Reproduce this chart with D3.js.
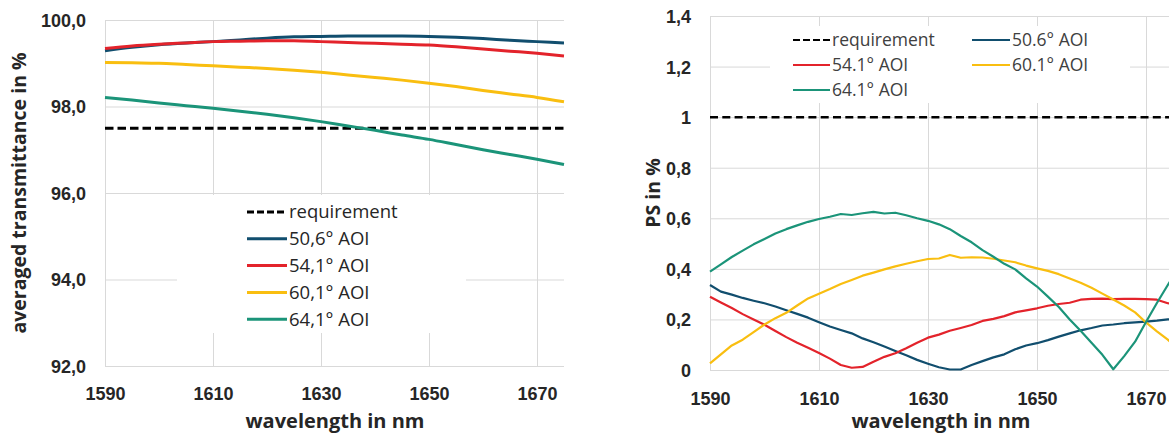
<!DOCTYPE html>
<html>
<head>
<meta charset="utf-8">
<script src="https://cdn.jsdelivr.net/npm/d3@7/dist/d3.min.js"></script>
<style>
  body { margin: 0; background: #fff; }
  svg { display: block; font-family: "Open Sans", "Noto Sans", sans-serif; }
  .grid line { stroke: #d9d9d9; stroke-width: 1; }
  .grid text { fill: #262626; font-weight: bold; font-size: 18px; }
</style>
</head>
<body>
<div id="chart"></div>
<script>
// ---- left chart : averaged transmittance ----
var wlTrans = [1590,1595,1600,1605,1610,1615,1620,1625,1630,1635,1640,1645,1650,1655,1660,1665,1670,1675];
var trans506 = [99.29,99.37,99.43,99.47,99.50,99.54,99.58,99.61,99.62,99.63,99.63,99.63,99.62,99.60,99.57,99.53,99.50,99.47];
var trans541 = [99.34,99.40,99.44,99.47,99.50,99.51,99.52,99.52,99.50,99.48,99.46,99.44,99.42,99.38,99.33,99.28,99.23,99.17];
var trans601 = [99.02,99.01,99.00,98.97,98.94,98.91,98.88,98.84,98.79,98.73,98.67,98.61,98.54,98.46,98.37,98.29,98.21,98.11];
var trans641 = [98.21,98.15,98.08,98.02,97.96,97.89,97.82,97.74,97.65,97.55,97.45,97.34,97.24,97.12,97.00,96.89,96.78,96.66];
var transReq = 97.5;
var transYTicks = [92,94,96,98,100];
var transLabels = ["requirement","50,6° AOI","54,1° AOI","60,1° AOI","64,1° AOI"];

// ---- right chart : PS ----
var wlPS = [1590,1592,1594,1596,1598,1600,1602,1604,1606,1608,1610,1612,1614,1616,1618,1620,1622,1624,1626,1628,1630,1632,1634,1636,1638,1640,1642,1644,1646,1648,1650,1652,1654,1656,1658,1660,1662,1664,1666,1668,1670,1672,1674,1675];
var ps506 = [0.336,0.310,0.298,0.285,0.274,0.264,0.251,0.236,0.222,0.207,0.189,0.172,0.158,0.145,0.125,0.110,0.093,0.075,0.058,0.040,0.025,0.011,0.002,0.002,0.020,0.035,0.050,0.062,0.082,0.097,0.106,0.118,0.132,0.145,0.157,0.166,0.176,0.180,0.185,0.188,0.191,0.195,0.200,0.200];
var ps541 = [0.290,0.267,0.245,0.221,0.200,0.179,0.154,0.130,0.108,0.088,0.067,0.045,0.020,0.009,0.012,0.033,0.052,0.066,0.086,0.108,0.128,0.140,0.155,0.166,0.178,0.194,0.202,0.213,0.228,0.236,0.244,0.254,0.261,0.266,0.278,0.281,0.282,0.280,0.281,0.281,0.280,0.278,0.264,0.260];
var ps601 = [0.026,0.062,0.097,0.120,0.150,0.180,0.205,0.226,0.255,0.283,0.302,0.320,0.340,0.356,0.373,0.385,0.398,0.410,0.420,0.430,0.439,0.441,0.455,0.444,0.446,0.445,0.440,0.433,0.426,0.413,0.402,0.392,0.379,0.362,0.345,0.325,0.302,0.279,0.255,0.228,0.188,0.153,0.120,0.100];
var ps641 = [0.389,0.418,0.447,0.472,0.497,0.518,0.540,0.557,0.572,0.586,0.597,0.606,0.617,0.613,0.620,0.625,0.619,0.622,0.612,0.600,0.590,0.576,0.557,0.530,0.505,0.474,0.448,0.420,0.398,0.362,0.330,0.290,0.249,0.200,0.155,0.108,0.060,0.003,0.055,0.112,0.190,0.265,0.336,0.370];
var psReq = 1;
var psYTicks = [0,0.2,0.4,0.6,0.8,1,1.2,1.4];
var psLabels = ["requirement","54.1° AOI","64.1° AOI","50.6° AOI","60.1° AOI"];

var xTicks = [1590,1610,1630,1650,1670];
var colBlue = "#114e6e", colRed = "#e3232b", colYellow = "#f9be10", colGreen = "#1b9479";

var svg = d3.select("#chart").append("svg").attr("width",1169).attr("height",434);

function zipData(xs,ys){
	return xs.map(function(x,i){ return {x : x, y : ys[i]}; });
}

function drawGrid(g,x,y,yTicks,yFmt,xPad){
	var left = x.range()[0], right = x.range()[1];
	var top = y.range()[1], bottom = y.range()[0];
	g.append("g").attr("class","grid")
		.attr("transform","translate("+left+",0)")
		.call(d3.axisLeft(y).tickValues(yTicks).tickFormat(yFmt).tickSize(-(right-left)).tickPadding(19))
		.call(function(a){ a.select(".domain").remove(); })
		.selectAll("text").attr("dy","0.36em");
	g.append("g").attr("class","grid")
		.attr("transform","translate(0,"+bottom+")")
		.call(d3.axisBottom(x).tickValues(xTicks).tickFormat(d3.format("d")).tickSize(-(bottom-top)).tickPadding(xPad))
		.call(function(a){ a.select(".domain").remove(); });
}

function drawLine(g,data,x,y,color,width,curve,dash){
	var line = d3.line().x(function(d){ return x(d.x); }).y(function(d){ return y(d.y); }).curve(curve);
	var p = g.append("path").datum(data)
		.attr("fill","none")
		.attr("stroke",color)
		.attr("stroke-width",width)
		.attr("stroke-linejoin","round")
		.attr("d",line);
	if(dash) p.attr("stroke-dasharray",dash);
}

function legendItem(g,x0,x1,yc,color,width,dash,label,fontSize,textCol){
	var l = g.append("line").attr("x1",x0).attr("x2",x1).attr("y1",yc).attr("y2",yc)
		.attr("stroke",color).attr("stroke-width",width);
	if(dash) l.attr("stroke-dasharray",dash);
	g.append("text").attr("x",x1+2).attr("y",yc).attr("dy","0.35em")
		.attr("font-size",fontSize).attr("fill",textCol).text(label);
}

function axisTitles(g,cx,cy,xTitle,yTitle,yx){
	g.append("text").attr("x",cx).attr("y",428).attr("text-anchor","middle")
		.attr("font-weight","bold").attr("font-size",20).attr("fill","#262626").text(xTitle);
	g.append("text").attr("transform","translate("+yx+","+cy+") rotate(-90)")
		.attr("text-anchor","middle").attr("font-weight","bold").attr("font-size",19.5).attr("fill","#262626").text(yTitle);
}

// left chart
var xL = d3.scaleLinear().domain([1590,1675]).range([105,564]);
var yL = d3.scaleLinear().domain([92,100]).range([366,20]);
var gL = svg.append("g");
drawGrid(gL,xL,yL,transYTicks,function(d){ return d3.format(".1f")(d).replace(".",","); },21);
// legend box hides the grid behind it
gL.append("rect").attr("x",177).attr("y",195).attr("width",289).attr("height",138).attr("fill","#fff");
drawLine(gL,zipData([1590,1675],[transReq,transReq]),xL,yL,"#000",3,d3.curveLinear,"8.5,4");
drawLine(gL,zipData(wlTrans,trans641),xL,yL,colGreen,3,d3.curveMonotoneX);
drawLine(gL,zipData(wlTrans,trans601),xL,yL,colYellow,3,d3.curveMonotoneX);
drawLine(gL,zipData(wlTrans,trans506),xL,yL,colBlue,3,d3.curveMonotoneX);
drawLine(gL,zipData(wlTrans,trans541),xL,yL,colRed,3,d3.curveMonotoneX);
var legColsL = ["#000",colBlue,colRed,colYellow,colGreen];
transLabels.forEach(function(lb,i){
	legendItem(gL,247,287,212+i*26.8,legColsL[i],3,i==0?"7,3":null,lb,18.5,"#262626");
});
axisTitles(gL,335,193,"wavelength in nm","averaged transmittance in %",26);

// right chart
var xR = d3.scaleLinear().domain([1590,1675]).range([710,1173.25]);
var yR = d3.scaleLinear().domain([0,1.4]).range([370,16]);
var gR = svg.append("g");
drawGrid(gR,xR,yR,psYTicks,function(d){ return String(+d.toFixed(1)).replace(".",","); },22);
gR.append("rect").attr("x",770).attr("y",26).attr("width",360).attr("height",77).attr("fill","#fff");
drawLine(gR,zipData([1590,1675],[psReq,psReq]),xR,yR,"#000",2.5,d3.curveLinear,"8,4.3");
drawLine(gR,zipData(wlPS,ps506),xR,yR,colBlue,2.2,d3.curveLinear);
drawLine(gR,zipData(wlPS,ps541),xR,yR,colRed,2.2,d3.curveLinear);
drawLine(gR,zipData(wlPS,ps601),xR,yR,colYellow,2.2,d3.curveLinear);
drawLine(gR,zipData(wlPS,ps641),xR,yR,colGreen,2.2,d3.curveLinear);
var legColsR = ["#000",colRed,colGreen,colBlue,colYellow];
psLabels.forEach(function(lb,i){
	var col = i<3 ? 0 : 1, row = i<3 ? i : i-3;
	legendItem(gR,col==0?793:972,col==0?830:1010,40+row*25,legColsR[i],2.2,i==0?"7,3":null,lb,17.5,"#404040");
});
axisTitles(gR,941,193,"wavelength in nm","PS in %",660);
</script>
</body>
</html>
